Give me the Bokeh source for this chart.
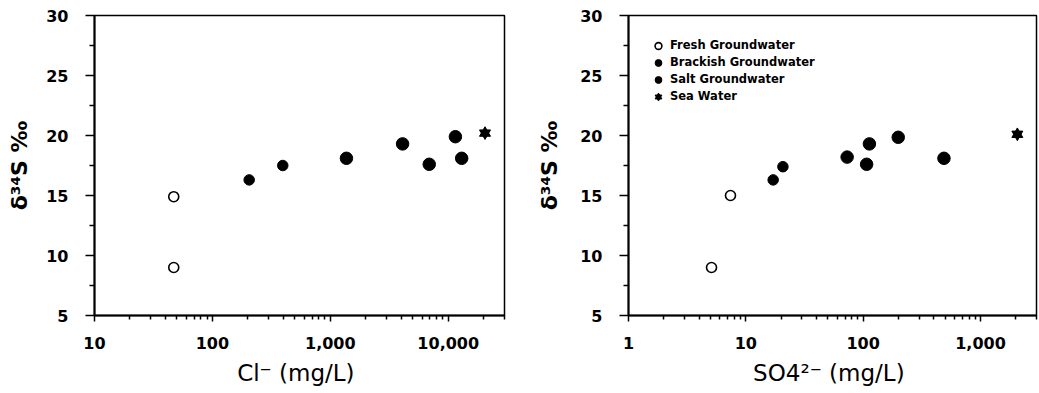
from bokeh.plotting import figure
from bokeh.layouts import row
from bokeh.models import FixedTicker, NumeralTickFormatter, Range1d, Legend, LegendItem
from bokeh.embed import file_html
from bokeh.resources import INLINE

# ---- data: left panel, delta34S vs Cl- (mg/L)
cl_fresh = [47, 47]
d34s_cl_fresh = [14.9, 9.0]
cl_brackish = [205, 395]
d34s_cl_brackish = [16.3, 17.5]
cl_salt = [1370, 4100, 6900, 11500, 13000]
d34s_cl_salt = [18.1, 19.3, 17.6, 19.9, 18.1]
cl_sea = [20500]
d34s_cl_sea = [20.2]

# ---- data: right panel, delta34S vs SO4 2- (mg/L)
so4_fresh = [5.1, 7.4]
d34s_so4_fresh = [9.0, 15.0]
so4_brackish = [17.1, 20.7]
d34s_so4_brackish = [16.3, 17.4]
so4_salt = [73, 107, 113, 199, 488]
d34s_so4_salt = [18.2, 17.6, 19.3, 19.85, 18.1]
so4_sea = [2060]
d34s_so4_sea = [20.1]

y_ticks = [5, 10, 15, 20, 25, 30]
cl_ticks = [10, 100, 1000, 10000]
so4_ticks = [1, 10, 100, 1000]
legend_labels = ["Fresh Groundwater", "Brackish Groundwater", "Salt Groundwater", "Sea Water"]

FONT = "DejaVu Sans"
FIG_H = 392


def log_minor(lo, hi, majors):
    out = []
    for m in majors:
        for k in range(2, 10):
            v = m * k
            if lo <= v <= hi:
                out.append(v)
    return out


def make_panel(xs, ys, x_lo, x_hi, majors, xlabel, width, border_left, border_right,
               frame_h, ylabel_standoff, legend):
    p = figure(width=width, height=FIG_H, x_axis_type="log",
               x_range=Range1d(x_lo, x_hi), y_range=Range1d(5, 30),
               output_backend="svg", toolbar_location=None,
               min_border_left=border_left, min_border_right=border_right,
               min_border_top=15, min_border_bottom=FIG_H - 15 - frame_h)
    p.grid.visible = False
    p.outline_line_color = "black"
    p.outline_line_width = 1.5
    p.background_fill_color = "white"

    # x axis
    xa = p.xaxis[0]
    xa.ticker = FixedTicker(ticks=majors, minor_ticks=log_minor(x_lo, x_hi, [majors[0] / 10] + majors))
    xa.formatter = NumeralTickFormatter(format="0,0")
    xa.axis_label = xlabel
    xa.axis_label_text_font = FONT
    xa.axis_label_text_font_style = "normal"
    xa.axis_label_text_font_size = "23px"
    xa.axis_label_text_color = "black"
    xa.axis_label_standoff = 8
    xa.major_label_text_font = FONT
    xa.major_label_text_font_style = "bold"
    xa.major_label_text_font_size = "16px"
    xa.major_label_text_color = "black"
    xa.major_label_standoff = 15
    xa.major_tick_in = 0
    xa.major_tick_out = 6
    xa.minor_tick_in = 0
    xa.minor_tick_out = 4
    xa.axis_line_width = 2
    xa.major_tick_line_width = 1.5
    xa.minor_tick_line_width = 1.5

    # y axis
    ya = p.yaxis[0]
    ya.ticker = FixedTicker(ticks=y_ticks, minor_ticks=[7.5, 12.5, 17.5, 22.5, 27.5])
    ya.axis_label = "δ³⁴S ‰"
    ya.axis_label_text_font = FONT
    ya.axis_label_text_font_style = "bold"
    ya.axis_label_text_font_size = "22px"
    ya.axis_label_text_color = "black"
    ya.axis_label_standoff = ylabel_standoff
    ya.major_label_text_font = FONT
    ya.major_label_text_font_style = "bold"
    ya.major_label_text_font_size = "16px"
    ya.major_label_text_color = "black"
    ya.major_label_standoff = 17
    ya.major_tick_in = 0
    ya.major_tick_out = 9
    ya.minor_tick_in = 0
    ya.minor_tick_out = 5
    ya.axis_line_width = 2
    ya.major_tick_line_width = 1.5
    ya.minor_tick_line_width = 1.5

    (fx, fy), (bx, by), (sx, sy), (wx, wy) = zip(xs, ys)
    r_fresh = p.scatter(fx, fy, marker="circle", size=10, fill_color="white",
                        line_color="black", line_width=1.6)
    r_brack = p.scatter(bx, by, marker="circle", size=10.5, fill_color="black", line_color="black")
    r_salt = p.scatter(sx, sy, marker="circle", size=12.5, fill_color="black", line_color="black")
    r_sea1 = p.scatter(wx, wy, marker="triangle", size=11, fill_color="black", line_color="black")
    r_sea2 = p.scatter(wx, wy, marker="inverted_triangle", size=11, fill_color="black", line_color="black")

    if legend:
        row_h = 17
        lg = Legend(items=[
            LegendItem(label=legend_labels[0], renderers=[r_fresh]),
            LegendItem(label=legend_labels[1], renderers=[r_brack]),
            LegendItem(label=legend_labels[2], renderers=[r_salt]),
            LegendItem(label=legend_labels[3], renderers=[r_sea1, r_sea2]),
        ])
        lg.location = (30 - 12, frame_h - (33 - row_h / 2) - 4 * row_h)
        lg.margin = 0
        lg.padding = 0
        lg.glyph_width = 24
        lg.glyph_height = row_h
        lg.label_height = row_h
        lg.spacing = 0
        lg.label_standoff = 0
        lg.label_text_font = FONT
        lg.label_text_font_style = "bold"
        lg.label_text_font_size = "11.5px"
        lg.label_text_color = "black"
        lg.background_fill_alpha = 0
        lg.border_line_color = None
        p.add_layout(lg, "center")
    return p


left = make_panel(
    [cl_fresh, cl_brackish, cl_salt, cl_sea],
    [d34s_cl_fresh, d34s_cl_brackish, d34s_cl_salt, d34s_cl_sea],
    10, 30000, cl_ticks, "Cl⁻  (mg/L)", 534, 94, 30, 300, 11, False)
right = make_panel(
    [so4_fresh, so4_brackish, so4_salt, so4_sea],
    [d34s_so4_fresh, d34s_so4_brackish, d34s_so4_salt, d34s_so4_sea],
    1, 3000, so4_ticks, "SO4²⁻  (mg/L)", 504, 94, 2, 303, 15, True)

layout = row(left, right)
open("out.html", "w").write(file_html(layout, INLINE))
